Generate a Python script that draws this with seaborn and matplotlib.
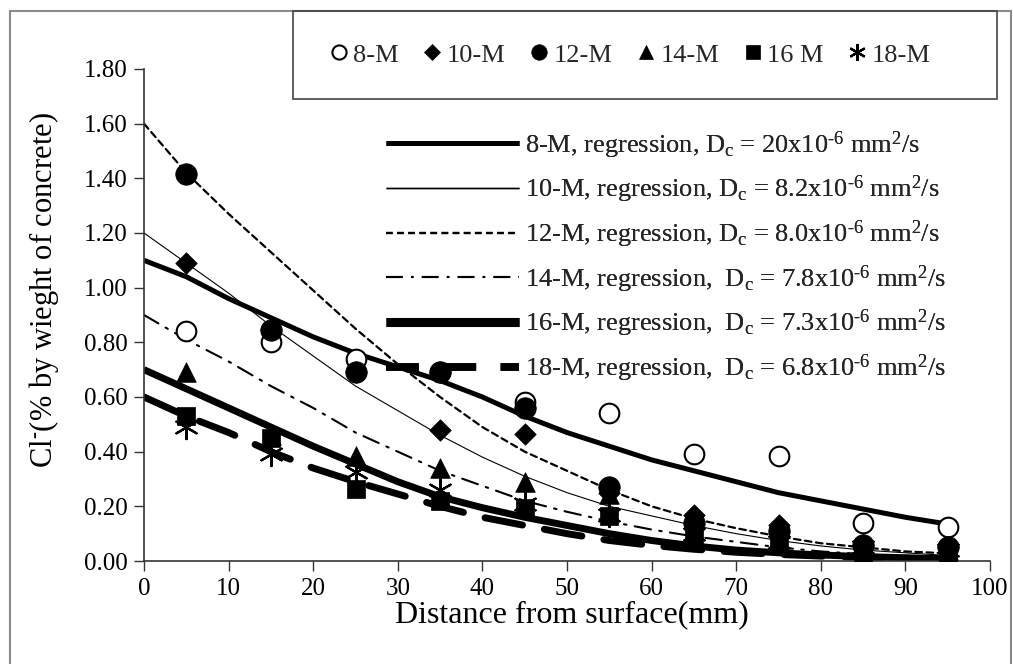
import numpy as np
import pandas as pd
import seaborn as sns
import matplotlib
matplotlib.use("Agg")
import matplotlib.pyplot as plt
from matplotlib.lines import Line2D
from matplotlib.patches import Rectangle

# ---------------- data ----------------
depth_pts = [5, 15, 25, 35, 45, 55, 65, 75, 85, 95]
m8 = [0.84, 0.80, 0.74, 0.69, 0.58, 0.54, 0.39, 0.385, 0.14, 0.125]
m10 = [1.09, 0.85, 0.69, 0.48, 0.465, 0.25, 0.17, 0.13, 0.06, 0.05]
m12 = [1.415, 0.845, 0.69, 0.69, 0.56, 0.27, 0.14, 0.11, 0.06, 0.05]
m14 = [0.69, 0.46, 0.385, 0.34, 0.29, 0.245, 0.15, 0.12, 0.05, 0.04]
m16 = [0.53, 0.45, 0.265, 0.22, 0.195, 0.165, 0.09, 0.06, 0.03, 0.03]
m18 = [0.49, 0.39, 0.325, 0.26, 0.21, 0.17, 0.10, 0.07, 0.05, 0.04]

depth_fit = [0, 5, 10, 15, 20, 25, 30, 35, 40, 45, 50, 55, 60, 65, 70, 75, 80, 85, 90, 95]
fit8 = [1.10, 1.04, 0.96, 0.89, 0.82, 0.76, 0.71, 0.66, 0.60, 0.53, 0.47, 0.42, 0.37, 0.33, 0.29, 0.25, 0.22, 0.19, 0.16, 0.135]
fit10 = [1.20, 1.09, 0.98, 0.86, 0.75, 0.64, 0.55, 0.46, 0.38, 0.31, 0.25, 0.20, 0.165, 0.13, 0.10, 0.075, 0.055, 0.04, 0.03, 0.02]
fit12 = [1.60, 1.42, 1.27, 1.13, 0.99, 0.85, 0.72, 0.60, 0.49, 0.40, 0.33, 0.26, 0.20, 0.155, 0.12, 0.09, 0.065, 0.05, 0.035, 0.028]
fit14 = [0.90, 0.81, 0.73, 0.64, 0.56, 0.47, 0.40, 0.33, 0.275, 0.22, 0.18, 0.145, 0.115, 0.09, 0.07, 0.05, 0.035, 0.025, 0.018, 0.012]
fit16 = [0.70, 0.63, 0.56, 0.49, 0.42, 0.355, 0.29, 0.235, 0.195, 0.16, 0.13, 0.10, 0.075, 0.055, 0.04, 0.03, 0.022, 0.016, 0.012, 0.008]
fit18 = [0.60, 0.53, 0.47, 0.40, 0.34, 0.29, 0.245, 0.20, 0.16, 0.13, 0.10, 0.075, 0.057, 0.043, 0.032, 0.024, 0.018, 0.013, 0.010, 0.007]

series_names = ["8-M", "10-M", "12-M", "14-M", "16 M", "18-M"]
fit_labels = [
    r"8-M, regression, D$_{\mathrm{c}}$ = 20x10$^{\text{-6}}$ mm$^{\text{2}}$/s",
    r"10-M, regression, D$_{\mathrm{c}}$ = 8.2x10$^{\text{-6}}$ mm$^{\text{2}}$/s",
    r"12-M, regression, D$_{\mathrm{c}}$ = 8.0x10$^{\text{-6}}$ mm$^{\text{2}}$/s",
    r"14-M, regression,  D$_{\mathrm{c}}$ = 7.8x10$^{\text{-6}}$ mm$^{\text{2}}$/s",
    r"16-M, regression,  D$_{\mathrm{c}}$ = 7.3x10$^{\text{-6}}$ mm$^{\text{2}}$/s",
    r"18-M, regression,  D$_{\mathrm{c}}$ = 6.8x10$^{\text{-6}}$ mm$^{\text{2}}$/s",
]
x_ticks = [0, 10, 20, 30, 40, 50, 60, 70, 80, 90, 100]
y_ticks = [0.0, 0.2, 0.4, 0.6, 0.8, 1.0, 1.2, 1.4, 1.6, 1.8]

# ---------------- style ----------------
sns.set_theme(style="white")
plt.rcParams["font.family"] = ["Liberation Serif", "DejaVu Serif"]
plt.rcParams["mathtext.fontset"] = "custom"
plt.rcParams["mathtext.rm"] = "Liberation Serif"
plt.rcParams["mathtext.it"] = "Liberation Serif:italic"
plt.rcParams["mathtext.bf"] = "Liberation Serif:bold"

W, H = 1013, 664
fig = plt.figure(figsize=(W / 100, H / 100), dpi=100)
fig.patch.set_facecolor("white")
ax = fig.add_axes([144 / W, 1 - 561 / H, (990 - 144) / W, (561 - 69) / H])

# regression curve styles
fit_series = [fit8, fit10, fit12, fit14, fit16, fit18]
fit_styles = [
    dict(lw=3.6, ls="-"),
    dict(lw=0.8, ls="-"),
    dict(lw=1.6, ls=(0, (3.0, 2.0))),
    dict(lw=1.5, ls=(0, (8, 4, 1.2, 4))),
    dict(lw=5.0, ls="-"),
    dict(lw=5.0, ls=(0, (5.5, 3.2))),
]
for ys, st in zip(fit_series, fit_styles):
    sns.lineplot(x=depth_fit, y=ys, ax=ax, color="black", linewidth=st["lw"],
                 linestyle=st["ls"], dash_capstyle="round", solid_capstyle="butt",
                 zorder=2)

# data points
pt_series = [m8, m10, m12, m14, m16, m18]
pt_styles = [
    dict(marker="o", s=200, facecolor="white", edgecolor="black", linewidth=1.5),
    dict(marker="D", s=120, facecolor="black", edgecolor="black", linewidth=0.5),
    dict(marker="o", s=240, facecolor="black", edgecolor="black", linewidth=0.5),
    dict(marker="^", s=200, facecolor="black", edgecolor="black", linewidth=0.5),
    dict(marker="s", s=180, facecolor="black", edgecolor="black", linewidth=0.5),
    dict(marker=(6, 2, 0), s=280, facecolor="black", edgecolor="black", linewidth=1.6),
]
for ys, st in zip(pt_series, pt_styles):
    sns.scatterplot(x=depth_pts, y=ys, ax=ax, zorder=3, **st)

ax.set_xlim(0, 100)
ax.set_ylim(0, 1.8)
ax.set_xticks(x_ticks)
ax.set_yticks(y_ticks)
ax.set_xticklabels([str(t) for t in x_ticks])
ax.set_yticklabels([f"{t:.2f}" for t in y_ticks])
ax.tick_params(axis="both", which="major", direction="out", length=7, width=1,
               color="#333333", labelsize=18, labelcolor="black", pad=5,
               bottom=True, left=True)
for side in ["top", "right"]:
    ax.spines[side].set_visible(False)
for side in ["left", "bottom"]:
    ax.spines[side].set_color("#333333")
    ax.spines[side].set_linewidth(1.2)
ax.set_facecolor("white")
ax.grid(False)

ax.set_xlabel("Distance from surface(mm)", fontsize=23, color="black")
ax.xaxis.set_label_coords((572 - 144) / 846, -(615 - 561) / 492)
ax.xaxis.label.set_va("center")
ax.set_ylabel(r"Cl$^{\text{-}}$(% by wieght of concrete)", fontsize=22, color="black")
ax.yaxis.set_label_coords(-(144 - 44) / 846, (561 - 290) / 492)
ax.yaxis.label.set_va("center")

# outer frame and marker legend box
fig.add_artist(Rectangle((10 / W, -0.05), 1001 / W, (1 - 11 / H) + 0.05,
                         transform=fig.transFigure, fill=False,
                         edgecolor="#8a8a8a", linewidth=1.5, zorder=0))
fig.add_artist(Rectangle((293 / W, 1 - 99 / H), 704 / W, 88 / H,
                         transform=fig.transFigure, fill=False,
                         edgecolor="#444444", linewidth=1.2, zorder=5))

# marker legend (handles only describe symbols)
mk_handles = []
for st in pt_styles:
    ms = np.sqrt(st["s"]) * 0.72
    mk_handles.append(Line2D([], [], linestyle="none", marker=st["marker"],
                             markersize=ms, markerfacecolor=st["facecolor"],
                             markeredgecolor="black", markeredgewidth=st["linewidth"]))
leg1 = fig.legend(mk_handles, series_names, loc="center",
                  bbox_to_anchor=(630 / W, 1 - 55 / H), ncol=6, frameon=False,
                  fontsize=19, handlelength=0.7, handletextpad=0.2,
                  columnspacing=0.92, borderpad=0)

# regression legend
ln_handles = []
leg_widths = [3.6, 1.0, 1.6, 1.5, 6.5, 5.5]
leg_ls = ["-", "-", (0, (3.0, 2.0)), (0, (8, 4, 1.2, 4)), "-", (0, (4.3, 3.2))]
for ls, lw in zip(leg_ls, leg_widths):
    ln_handles.append(Line2D([], [], color="black", linewidth=lw, linestyle=ls,
                             dash_capstyle="butt", solid_capstyle="butt"))
leg2 = ax.legend(ln_handles, fit_labels, loc="upper left",
                 bbox_to_anchor=(373 / W, 1 - 116 / H), bbox_transform=fig.transFigure,
                 frameon=False, fontsize=19, handlelength=5.05, handletextpad=0.22,
                 labelspacing=0.50, borderpad=0)
ax.add_artist(leg2)

fig.savefig("out.png", dpi=100, facecolor="white")
